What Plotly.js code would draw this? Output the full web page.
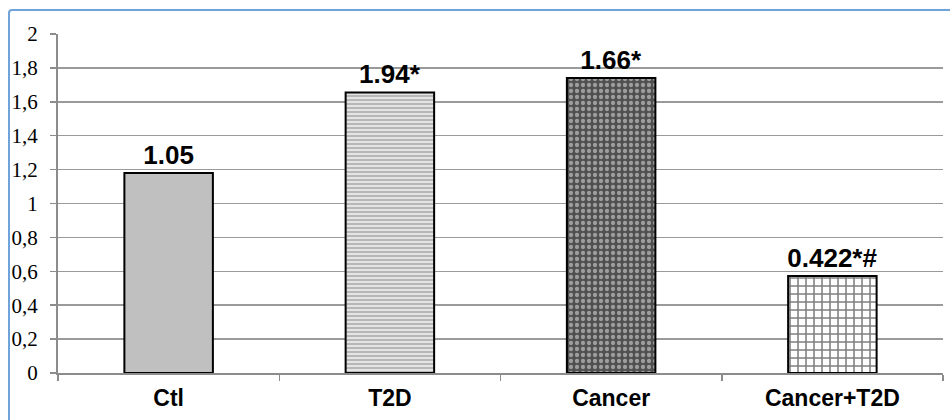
<!DOCTYPE html>
<html>
<head>
<meta charset="utf-8">
<script src="https://cdn.plot.ly/plotly-3.0.1.min.js"></script>
<style>
  html, body { margin: 0; padding: 0; background: #ffffff; overflow: hidden; }
  #wrap { position: relative; width: 950px; height: 420px; }
  #frame { position: absolute; left: 8px; top: 9px; width: 960px; height: 440px;
           border: 2px solid #6fa3d9; border-radius: 4px; box-sizing: border-box; pointer-events: none; }
  #chart { position: absolute; left: 0; top: 0; width: 950px; height: 420px; }
</style>
</head>
<body>
<div id="wrap">
  <div id="chart"></div>
  <div id="frame"></div>
</div>
<script>
// Data
const categories = ["Ctl", "T2D", "Cancer", "Cancer+T2D"];
const barValues = [1.18, 1.655, 1.74, 0.573];
const barLabels = ["1.05", "1.94*", "1.66*", "0.422*#"];
const yTickValues = [0, 0.2, 0.4, 0.6, 0.8, 1, 1.2, 1.4, 1.6, 1.8, 2];

// Styles (one per bar)
const patternShapes = ["", "-", ".", "+"];
const patternFg = ["#c0c0c0", "#8a8a8a", "#ececec", "#000000"];
const patternBg = ["#c0c0c0", "#e4e4e4", "#505050", "#ffffff"];
const patternSize = [6, 4, 6, 8];
const patternSolidity = [0.3, 0.5, 0.4, 0.35];

const traces = categories.map(function (cat, i) {
  const marker = {
    color: patternBg[i],
    line: { color: "#000000", width: 2 }
  };
  if (patternShapes[i]) {
    marker.pattern = {
      shape: patternShapes[i],
      fgcolor: patternFg[i],
      bgcolor: patternBg[i],
      size: patternSize[i],
      solidity: patternSolidity[i],
      fillmode: "overlay"
    };
  }
  return {
    type: "bar",
    x: [cat],
    y: [barValues[i]],
    text: [barLabels[i]],
    textposition: "outside",
    constraintext: "none",
    cliponaxis: false,
    textfont: { family: "Liberation Sans, Arial, sans-serif", size: 26, color: "#000000", weight: 700 },
    marker: marker,
    hoverinfo: "none"
  };
});

const layout = {
  width: 950,
  height: 420,
  margin: { l: 58, r: 7, t: 34, b: 47, pad: 0 },
  paper_bgcolor: "#ffffff",
  plot_bgcolor: "#ffffff",
  showlegend: false,
  barmode: "overlay",
  bargap: 0.6,
  separators: ",.",
  font: { family: "Liberation Serif, serif", color: "#000000" },
  xaxis: {
    type: "category",
    categoryarray: categories,
    showgrid: false,
    showline: true,
    linecolor: "#8c8c8c",
    linewidth: 2,
    ticks: "outside",
    tickson: "boundaries",
    ticklen: 6,
    tickwidth: 1.5,
    tickcolor: "#8c8c8c",
    ticklabelstandoff: 3,
    tickfont: { family: "Liberation Sans, Arial, sans-serif", size: 23, color: "#000000", weight: 700 },
    zeroline: false,
    fixedrange: true
  },
  yaxis: {
    range: [0, 2],
    tickvals: yTickValues,
    showgrid: true,
    gridcolor: "#9a9a9a",
    gridwidth: 1.5,
    showline: true,
    linecolor: "#8c8c8c",
    linewidth: 2,
    ticks: "outside",
    ticklen: 6,
    tickwidth: 1.5,
    tickcolor: "#8c8c8c",
    ticklabelstandoff: 8,
    tickfont: { family: "Liberation Serif, Times New Roman, serif", size: 21, color: "#000000" },
    zeroline: false,
    fixedrange: true
  }
};

Plotly.newPlot("chart", traces, layout, { staticPlot: true, displayModeBar: false });
</script>
</body>
</html>
